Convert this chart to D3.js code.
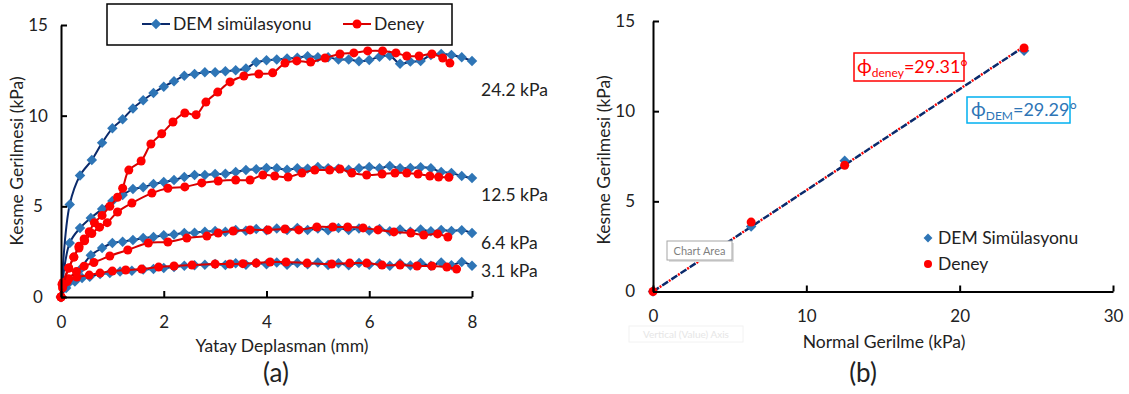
<html>
<head>
<meta charset="utf-8">
<script src="https://d3js.org/d3.v7.min.js"></script>
<style>
body {margin:0; background:#fff;}
svg text {font-family: Lato, "Open Sans", sans-serif; fill:#222;}
.axis path, .axis line {stroke:#000; stroke-width:2;}
.axis text {font-size:17px; fill:#222;}
.lbl {font-size:17.5px;}
</style>
</head>
<body>
<svg id="chart" width="1129" height="394"></svg>
<script>
// (a) shear stress vs horizontal displacement, [mm, kPa]
var dem242 = [[0,0],[0.17,5.1],[0.37,6.7],[0.6,7.55],[0.8,8.5],[1.0,9.3],[1.2,9.8],[1.4,10.4],[1.6,10.85],[1.8,11.25],[2.0,11.6],[2.2,11.9],[2.4,12.2],[2.6,12.3],[2.8,12.4],[3.0,12.4],[3.2,12.45],[3.4,12.5],[3.6,12.6],[3.8,12.95],[4.0,13.05],[4.2,13.1],[4.4,13.15],[4.6,13.2],[4.8,13.28],[5.0,13.22],[5.2,13.22],[5.4,13.1],[5.6,13.1],[5.8,13.0],[6.0,13.07],[6.2,13.25],[6.4,13.3],[6.6,12.86],[6.8,12.98],[7.0,13.02],[7.2,13.35],[7.4,13.4],[7.6,13.35],[7.8,13.22],[8.0,13.02]];
var dem125 = [[0,0],[0.17,2.98],[0.37,3.8],[0.58,4.36],[0.8,4.85],[1.0,5.3],[1.2,5.63],[1.4,5.95],[1.6,6.05],[1.8,6.23],[2.0,6.34],[2.2,6.45],[2.4,6.62],[2.6,6.73],[2.8,6.73],[3.0,6.78],[3.2,6.8],[3.4,6.9],[3.6,7.0],[3.8,7.05],[4.0,7.12],[4.2,7.1],[4.4,7.02],[4.6,7.1],[4.8,7.08],[5.0,7.17],[5.2,7.1],[5.4,7.08],[5.6,7.02],[5.8,7.1],[6.0,7.17],[6.2,7.1],[6.4,7.23],[6.6,7.1],[6.8,7.12],[7.0,7.15],[7.2,7.1],[7.4,6.9],[7.6,6.84],[7.8,6.67],[8.0,6.56]];
var dem64 = [[0,0],[0.15,0.77],[0.37,1.5],[0.58,2.3],[0.8,2.7],[1.0,2.98],[1.2,3.05],[1.4,3.14],[1.6,3.25],[1.8,3.31],[2.0,3.4],[2.2,3.45],[2.4,3.53],[2.6,3.55],[2.8,3.6],[3.0,3.64],[3.2,3.6],[3.4,3.7],[3.6,3.65],[3.8,3.75],[4.0,3.68],[4.2,3.78],[4.4,3.7],[4.6,3.8],[4.8,3.7],[5.0,3.78],[5.2,3.68],[5.4,3.8],[5.6,3.7],[5.8,3.78],[6.0,3.66],[6.2,3.75],[6.4,3.62],[6.6,3.72],[6.8,3.6],[7.0,3.72],[7.2,3.62],[7.4,3.7],[7.6,3.64],[7.8,3.68],[8.0,3.53]];
var dem31 = [[0,0],[0.1,0.5],[0.27,0.85],[0.41,1.05],[0.56,1.12],[0.76,1.27],[0.95,1.32],[1.15,1.4],[1.38,1.45],[1.6,1.52],[1.8,1.55],[2.0,1.6],[2.2,1.65],[2.4,1.72],[2.6,1.75],[2.8,1.78],[3.0,1.82],[3.2,1.76],[3.4,1.86],[3.6,1.78],[3.8,1.88],[4.0,1.8],[4.2,1.9],[4.4,1.78],[4.6,1.88],[4.8,1.8],[5.0,1.9],[5.2,1.76],[5.4,1.86],[5.6,1.75],[5.8,1.88],[6.0,1.78],[6.2,1.85],[6.4,1.72],[6.6,1.85],[6.8,1.74],[7.0,1.88],[7.2,1.72],[7.4,1.9],[7.6,1.75],[7.8,1.93],[8.0,1.72]];

var exp242 = [[0,0],[0.05,0.7],[0.15,1.6],[0.25,2.2],[0.35,2.8],[0.45,3.2],[0.55,3.6],[0.65,4.1],[0.8,4.5],[0.95,5.0],[1.1,5.5],[1.2,6.0],[1.32,7.0],[1.56,7.5],[1.75,8.44],[1.96,9.0],[2.18,9.65],[2.41,10.15],[2.63,10.05],[2.82,10.75],[3.05,11.3],[3.29,11.86],[3.56,12.19],[3.85,12.3],[4.12,12.36],[4.36,12.9],[4.59,13.02],[4.86,12.96],[5.14,13.18],[5.43,13.4],[5.7,13.46],[5.97,13.57],[6.26,13.57],[6.52,13.46],[6.73,13.29],[6.97,13.29],[7.22,13.4],[7.43,13.18],[7.57,12.9]];
var exp125 = [[0,0],[0.04,0.8],[0.15,1.6],[0.25,2.2],[0.35,2.7],[0.46,3.1],[0.6,3.5],[0.75,3.85],[0.9,4.1],[1.1,4.69],[1.38,5.18],[1.77,5.73],[2.08,6.0],[2.41,6.07],[2.74,6.29],[3.06,6.4],[3.4,6.45],[3.68,6.45],[3.93,6.73],[4.16,6.67],[4.42,6.62],[4.69,6.84],[4.94,7.0],[5.23,7.0],[5.43,7.06],[5.66,6.84],[5.95,6.73],[6.25,6.78],[6.5,6.84],[6.73,6.84],[6.95,6.78],[7.18,6.67],[7.35,6.62],[7.55,6.6]];
var exp64 = [[0,0],[0.03,0.5],[0.15,1.0],[0.3,1.4],[0.45,1.7],[0.64,1.9],[0.95,2.26],[1.3,2.59],[1.7,2.98],[2.08,3.03],[2.45,3.25],[2.84,3.36],[3.06,3.53],[3.35,3.64],[3.68,3.7],[4.03,3.7],[4.36,3.75],[4.63,3.7],[4.98,3.86],[5.29,3.86],[5.58,3.86],[5.88,3.81],[6.17,3.7],[6.48,3.59],[6.81,3.53],[7.06,3.42],[7.33,3.48],[7.53,3.31]];
var exp31 = [[0,0],[0.02,0.7],[0.12,0.85],[0.31,1.1],[0.55,1.21],[0.76,1.32],[1.0,1.43],[1.26,1.49],[1.57,1.54],[1.9,1.65],[2.2,1.71],[2.55,1.76],[3.0,1.82],[3.29,1.82],[3.54,1.84],[3.8,1.87],[4.07,1.93],[4.38,1.93],[4.79,1.87],[5.27,1.82],[5.62,1.87],[5.95,1.87],[6.25,1.76],[6.6,1.76],[6.93,1.71],[7.22,1.71],[7.51,1.65],[7.7,1.54]];

var loadLabels = ['24.2 kPa','12.5 kPa','6.4 kPa','3.1 kPa'];
var loadLabelY = [11.4, 5.65, 3.0, 1.45];   // kPa level where each label sits
var ticksA_x = [0,2,4,6,8];
var ticksA_y = [0,5,10,15];

// (b) failure envelope
var normalStress = [0, 6.4, 12.5, 24.2];
var shearDEM = [0, 3.6, 7.25, 13.35];
var shearExp = [0, 3.85, 7.0, 13.5];
var phiDEM = 29.29, phiExp = 29.31;
var ticksB_x = [0,10,20,30];
var ticksB_y = [0,5,10,15];

var BLUE = '#2E75B6', NAVY = '#0B2A6B', RED = '#FF0000', DRED = '#D80000';

var svg = d3.select('#chart');
svg.append('rect').attr('width',1129).attr('height',394).attr('fill','#fff');

var diamond = d3.symbol().type(d3.symbolDiamond2).size(70);

// ---------- chart (a) ----------
var xa = d3.scaleLinear().domain([0,8]).range([61,472]);
var ya = d3.scaleLinear().domain([0,15]).range([297,25]);
var lineA = d3.line().x(function(d){return xa(d[0]);}).y(function(d){return ya(d[1]);}).curve(d3.curveCatmullRom.alpha(0.5));

var ga = svg.append('g');
[dem31, dem64, dem125, dem242].forEach(function(s){
  ga.append('path').attr('d', lineA(s)).attr('fill','none').attr('stroke',NAVY).attr('stroke-width',2);
  ga.selectAll(null).data(s).enter().append('path')
    .attr('d', diamond).attr('fill',BLUE)
    .attr('transform', function(d){return 'translate('+xa(d[0])+','+ya(d[1])+')';});
});
[exp31, exp64, exp125, exp242].forEach(function(s){
  ga.append('path').attr('d', lineA(s)).attr('fill','none').attr('stroke',DRED).attr('stroke-width',2);
  ga.selectAll(null).data(s).enter().append('circle')
    .attr('cx', function(d){return xa(d[0]);}).attr('cy', function(d){return ya(d[1]);})
    .attr('r',4.5).attr('fill',RED);
});

svg.append('g').attr('class','axis').attr('transform','translate(0,297)')
  .call(d3.axisBottom(xa).tickValues(ticksA_x).tickSizeInner(-6).tickSizeOuter(0).tickPadding(19));
var ayA = svg.append('g').attr('class','axis').attr('transform','translate(61,0)')
  .call(d3.axisLeft(ya).tickValues(ticksA_y).tickSizeInner(-6).tickSizeOuter(0));
ayA.selectAll('text').attr('text-anchor','middle').attr('x',-23);

svg.append('text').attr('class','lbl').attr('transform','translate(23,161) rotate(-90)').attr('text-anchor','middle')
  .text('Kesme Gerilmesi (kPa)');
svg.append('text').attr('class','lbl').attr('x',282).attr('y',352).attr('text-anchor','middle')
  .text('Yatay Deplasman (mm)');
svg.append('text').attr('x',276).attr('y',382).attr('text-anchor','middle')
  .style('font-size','26px').text('(a)');

svg.selectAll(null).data(loadLabels).enter().append('text').attr('class','lbl')
  .attr('x',481).attr('y', function(d,i){return ya(loadLabelY[i]) + 6;})
  .text(function(d){return d;});

// legend (a)
var lg = svg.append('g');
lg.append('rect').attr('x',107).attr('y',4).attr('width',345).attr('height',41)
  .attr('fill','#fff').attr('stroke','#000').attr('stroke-width',1.5);
lg.append('line').attr('x1',142).attr('x2',170).attr('y1',24).attr('y2',24).attr('stroke',NAVY).attr('stroke-width',2);
lg.append('path').attr('d',diamond).attr('fill',BLUE).attr('transform','translate(156,24)');
lg.append('text').attr('class','lbl').attr('x',173).attr('y',30).text('DEM simülasyonu');
lg.append('line').attr('x1',343).attr('x2',371).attr('y1',24).attr('y2',24).attr('stroke',DRED).attr('stroke-width',2);
lg.append('circle').attr('cx',357).attr('cy',24).attr('r',4.5).attr('fill',RED);
lg.append('text').attr('class','lbl').attr('x',374).attr('y',30).text('Deney');

// ---------- chart (b) ----------
var xb = d3.scaleLinear().domain([0,30]).range([653,1113]);
var yb = d3.scaleLinear().domain([0,15]).range([291.5,21]);

var gb = svg.append('g');
var xEnd = normalStress[normalStress.length-1];
gb.append('line').attr('x1',xb(0)).attr('y1',yb(0))
  .attr('x2',xb(xEnd)).attr('y2',yb(xEnd*Math.tan(phiDEM*Math.PI/180)))
  .attr('stroke',NAVY).attr('stroke-width',2.5).attr('stroke-dasharray','7,4');
gb.append('line').attr('x1',xb(0)).attr('y1',yb(0))
  .attr('x2',xb(xEnd)).attr('y2',yb(xEnd*Math.tan(phiExp*Math.PI/180)))
  .attr('stroke',RED).attr('stroke-width',2.5).attr('stroke-dasharray','2,9').attr('stroke-dashoffset',-8);

gb.selectAll(null).data(normalStress).enter().append('path')
  .attr('d', diamond).attr('fill',BLUE)
  .attr('transform', function(d,i){return 'translate('+xb(d)+','+yb(shearDEM[i])+')';});
gb.selectAll(null).data(normalStress).enter().append('circle')
  .attr('cx', function(d){return xb(d);}).attr('cy', function(d,i){return yb(shearExp[i]);})
  .attr('r',4.5).attr('fill',RED);

svg.append('g').attr('class','axis').attr('transform','translate(0,291.5)')
  .call(d3.axisBottom(xb).tickValues(ticksB_x).tickSizeInner(-6).tickSizeOuter(0).tickPadding(18));
var ayB = svg.append('g').attr('class','axis').attr('transform','translate(653,0)')
  .call(d3.axisLeft(yb).tickValues(ticksB_y).tickSizeInner(-6).tickSizeOuter(0));
ayB.selectAll('text').attr('x',-18);

svg.append('text').attr('class','lbl').attr('transform','translate(610,160) rotate(-90)').attr('text-anchor','middle')
  .text('Kesme Gerilmesi (kPa)');
svg.append('text').attr('class','lbl').attr('x',884).attr('y',348).attr('text-anchor','middle')
  .text('Normal Gerilme (kPa)');
svg.append('text').attr('x',863).attr('y',382).attr('text-anchor','middle')
  .style('font-size','26px').text('(b)');

// legend (b)
svg.append('path').attr('d', d3.symbol().type(d3.symbolDiamond2).size(50)).attr('fill',BLUE).attr('transform','translate(928,238)');
svg.append('text').attr('class','lbl').attr('x',938).attr('y',244).text('DEM Simülasyonu');
svg.append('circle').attr('cx',928).attr('cy',264).attr('r',4).attr('fill',RED);
svg.append('text').attr('class','lbl').attr('x',938).attr('y',270).text('Deney');

// friction angle boxes
svg.append('rect').attr('x',854).attr('y',53).attr('width',110).attr('height',28)
  .attr('fill','#fff').attr('stroke',RED).attr('stroke-width',1.5);
var t1 = svg.append('text').attr('x',857).attr('y',73).style('font-size','18px').style('fill',RED);
t1.append('tspan').style('font-size','20px').text('ϕ');
t1.append('tspan').attr('dy',4).style('font-size','12px').text('deney');
t1.append('tspan').attr('dy',-4).text('=' + phiExp.toFixed(2) + '°');

svg.append('rect').attr('x',967).attr('y',97).attr('width',103).attr('height',26)
  .attr('fill','#fff').attr('stroke','#00B0F0').attr('stroke-width',1.5);
var t2 = svg.append('text').attr('x',971).attr('y',116).style('font-size','18px').style('fill',BLUE);
t2.append('tspan').style('font-size','20px').text('ϕ');
t2.append('tspan').attr('dy',4).style('font-size','12px').text('DEM');
t2.append('tspan').attr('dy',-4).text('=' + phiDEM.toFixed(2) + '°');

// editor tooltips captured in the picture
svg.append('rect').attr('x',669).attr('y',243).attr('width',65).attr('height',19).attr('fill','#ddd');
svg.append('rect').attr('x',667).attr('y',241).attr('width',65).attr('height',19)
  .attr('fill','#fff').attr('stroke','#a6a6a6');
svg.append('text').attr('x',699.5).attr('y',255).attr('text-anchor','middle')
  .style('font-size','11px').style('fill','#7f7f7f').text('Chart Area');
svg.append('rect').attr('x',629).attr('y',326).attr('width',114).attr('height',16)
  .attr('fill','none').attr('stroke','#f2f2f2');
svg.append('text').attr('x',686).attr('y',338).attr('text-anchor','middle')
  .style('font-size','10px').style('fill','#e6e6e6').text('Vertical (Value) Axis');
</script>
</body>
</html>
